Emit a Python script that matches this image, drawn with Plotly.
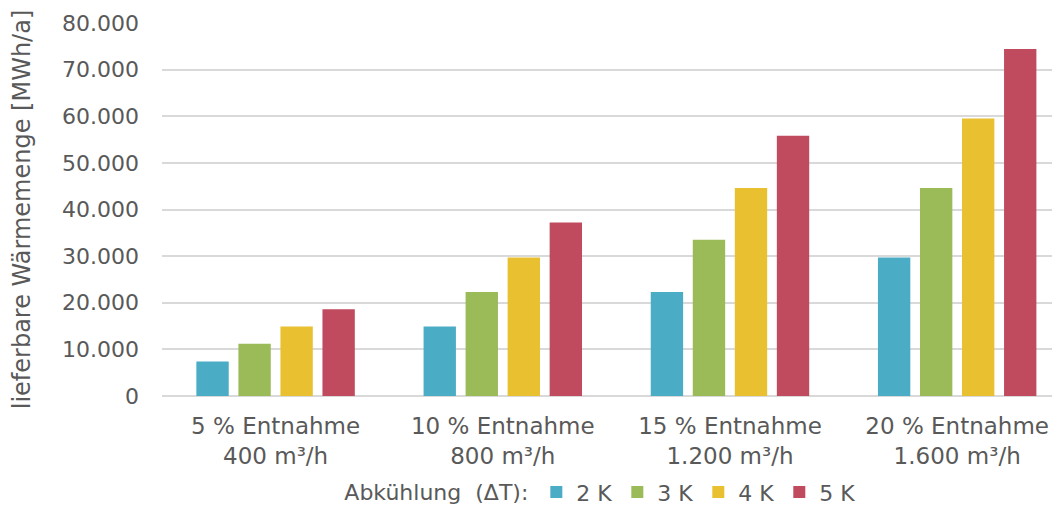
import plotly.graph_objects as go

categories = [
    "5 % Entnahme<br>400 m³/h",
    "10 % Entnahme<br>800 m³/h",
    "15 % Entnahme<br>1.200 m³/h",
    "20 % Entnahme<br>1.600 m³/h",
]
series_names = ["2 K", "3 K", "4 K", "5 K"]
values_2k = [7400, 14900, 22300, 29700]
values_3k = [11200, 22300, 33500, 44600]
values_4k = [14900, 29700, 44600, 59500]
values_5k = [18600, 37200, 55800, 74400]
colors = ["#4BACC6", "#9BBB59", "#E8C030", "#C04B5F"]
tick_vals = [0, 10000, 20000, 30000, 40000, 50000, 60000, 70000, 80000]
tick_text = ["0", "10.000", "20.000", "30.000", "40.000", "50.000", "60.000", "70.000", "80.000"]

GRAY = "#595959"
FONT = "DejaVu Sans, sans-serif"
SIZE = 22

fig = go.Figure()
for name, vals, col in zip(series_names, [values_2k, values_3k, values_4k, values_5k], colors):
    fig.add_trace(go.Bar(
        x=categories, y=vals, name=name,
        marker=dict(color=col, line=dict(width=0)),
    ))

fig.update_layout(
    width=1060, height=508,
    paper_bgcolor="white", plot_bgcolor="white",
    font=dict(family=FONT, size=SIZE, color=GRAY),
    barmode="group",
    bargap=0.26,
    bargroupgap=0.23,
    margin=dict(l=154, r=2, t=15, b=120),
    # plot area runs past the right edge in the original, so the last slot is cut
    xaxis=dict(range=[-0.5, 3.479], showgrid=False, showline=False, ticks="",
               ticklabelstandoff=14, automargin=False,
               tickfont=dict(size=23, color=GRAY)),
    yaxis=dict(
        range=[0, 80000], tickvals=tick_vals, ticktext=tick_text,
        showgrid=True, gridcolor="#D9D9D9", gridwidth=2,
        zeroline=True, zerolinecolor="#D9D9D9", zerolinewidth=2,
        showline=False, ticks="", ticklabelstandoff=22, automargin=False,
        tickfont=dict(size=SIZE, color=GRAY),
        title=dict(text="lieferbare Wärmemenge [MWh/a]", font=dict(size=24, color=GRAY), standoff=26),
    ),
    legend=dict(
        orientation="h", x=0.486, xanchor="center",
        yref="container", y=0.047, yanchor="middle",
        title=dict(text="Abkühlung  (ΔT):", font=dict(size=SIZE, color=GRAY)),
        font=dict(size=SIZE, color=GRAY),
        itemwidth=30, tracegroupgap=0,
    ),
    showlegend=True,
)

fig.write_html("out.html")
